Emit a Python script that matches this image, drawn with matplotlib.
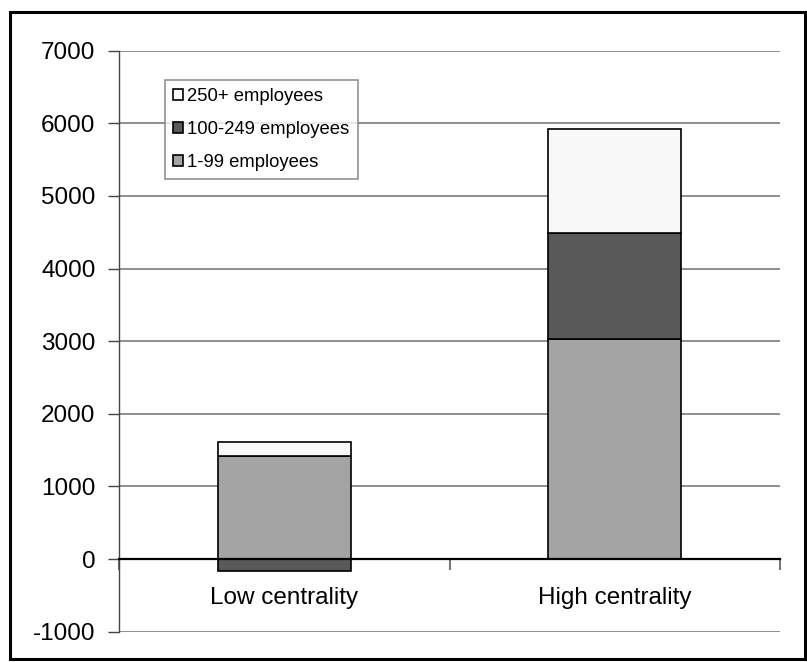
import matplotlib
matplotlib.use("Agg")
import matplotlib.pyplot as plt
from matplotlib.patches import Rectangle
import numpy as np

plt.rcParams['font.family'] = ['Liberation Sans', 'DejaVu Sans']

categories = ["Low centrality", "High centrality"]
series_names = ["1-99 employees", "100-249 employees", "250+ employees"]
small = [1422, 3033]        # 1-99 employees
medium = [-160, 1456]       # 100-249 employees
large = [185, 1432]         # 250+ employees
y_ticks = [-1000, 0, 1000, 2000, 3000, 4000, 5000, 6000, 7000]

colors = {"1-99 employees": "#a4a4a4",
          "100-249 employees": "#595959",
          "250+ employees": "#f8f8f8"}

W, H = 807, 662
fig = plt.figure(figsize=(W / 100, H / 100), dpi=100)
ax = fig.add_axes([119 / W, (H - 631.7) / H, (780 - 119) / W, (631.7 - 50.7) / H])

x = np.arange(len(categories))
bw = 0.403

# Stack positive values upward and negative values downward from zero
pos_base = np.zeros(len(categories))
neg_base = np.zeros(len(categories))
handles = {}
for name, vals in zip(series_names, [small, medium, large]):
    vals = np.array(vals, dtype=float)
    bottoms = np.where(vals >= 0, pos_base, neg_base)
    bars = ax.bar(x, vals, bw, bottom=bottoms, color=colors[name],
                  edgecolor="black", linewidth=1.2, zorder=3, label=name)
    handles[name] = bars
    pos_base = pos_base + np.where(vals >= 0, vals, 0)
    neg_base = neg_base + np.where(vals < 0, vals, 0)

ax.set_xlim(-0.5, 1.5)
ax.set_ylim(-1000, 7000)
ax.set_yticks(y_ticks)
ax.set_yticklabels([str(v) for v in y_ticks], fontsize=17.5)
ax.tick_params(axis="y", direction="out", length=8, width=1, color="#444444",
               pad=9)
ax.yaxis.grid(True, color="#707070", linewidth=1.1, zorder=0)
ax.set_axisbelow(True)

# Category axis sits on the zero line
for s in ["top", "right"]:
    ax.spines[s].set_visible(False)
ax.spines["left"].set_color("#444444")
ax.spines["left"].set_linewidth(1)
ax.spines["bottom"].set_position(("data", 0))
ax.spines["bottom"].set_color("black")
ax.spines["bottom"].set_linewidth(1.6)
ax.spines["bottom"].set_zorder(4)
ax.set_xticks([-0.5, 0.5, 1.5])
ax.set_xticklabels(["", "", ""])
ax.tick_params(axis="x", which="major", direction="out", length=8, width=1.5,
               color="#777777")
ax.set_xticks(x, minor=True)
ax.set_xticklabels(categories, minor=True, fontsize=17.5)
ax.tick_params(axis="x", which="minor", length=0, pad=20)

order = ["250+ employees", "100-249 employees", "1-99 employees"]
leg = ax.legend([handles[n] for n in order], order,
                loc="upper left", bbox_to_anchor=(165 / W, 1 - 80 / H),
                bbox_transform=fig.transFigure, fontsize=13.3,
                frameon=True, fancybox=False, shadow=False,
                handlelength=0.55, handleheight=0.55, handletextpad=0.2,
                labelspacing=0.85, borderpad=0.45, borderaxespad=0)
leg.get_frame().set_edgecolor("#777777")
leg.get_frame().set_linewidth(1.2)
leg.set_zorder(5)

# Outer chart border
fig.patches.append(Rectangle((10 / W, 3 / H), 795 / W, (H - 12 - 3) / H,
                             transform=fig.transFigure, fill=False,
                             edgecolor="black", linewidth=2.2))

fig.savefig("out.png", dpi=100)
